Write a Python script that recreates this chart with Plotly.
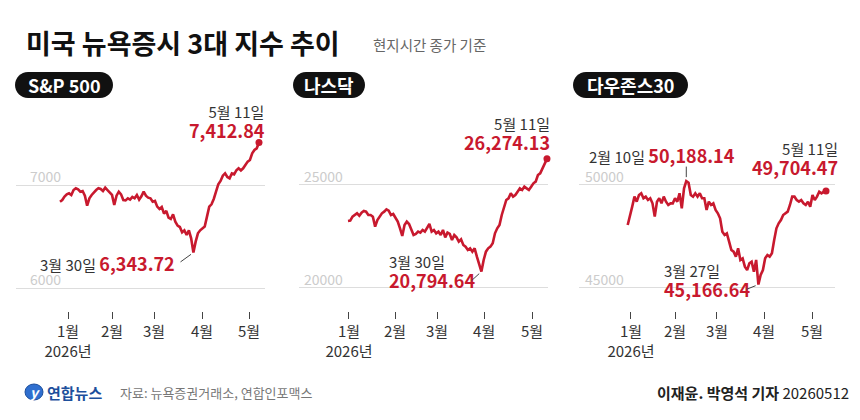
import plotly.graph_objects as go
import pandas as pd

W, H = 860, 420
FONT = "Noto Sans CJK KR"
RED = "#c8192e"
DARK = "#333333"

# ---- data -------------------------------------------------------------
dates = pd.bdate_range("2026-01-02", "2026-05-11", freq="C",
                       holidays=["2026-01-19", "2026-02-16", "2026-04-03"]
                       ).strftime("%Y-%m-%d").tolist()

sp500 = [6838, 6854, 6887, 6909, 6919, 6903, 6951, 6968, 6958, 6935,
         6942, 6896, 6799, 6871, 6903, 6929, 6951, 6968, 6961, 6942,
         6974, 6951, 6929, 6903, 6806, 6896, 6935, 6909, 6854, 6851,
         6871, 6858, 6884, 6871, 6903, 6858, 6890, 6935, 6896, 6877,
         6871, 6838, 6845, 6790, 6767, 6786, 6722, 6748, 6683, 6670,
         6715, 6644, 6605, 6592, 6540, 6560, 6515, 6560, 6482, 6343.72,
         6450, 6531, 6560, 6579, 6596, 6693, 6790, 6812, 6864, 6935,
         7006, 7039, 7091, 7113, 7078, 7065, 7113, 7104, 7142, 7162,
         7142, 7162, 7194, 7227, 7243, 7307, 7340, 7356, 7412.84]

nasdaq = [23253, 23269, 23463, 23544, 23625, 23511, 23657, 23738, 23706, 23544,
          23544, 23463, 22978, 23301, 23463, 23625, 23706, 23819, 23754, 23544,
          23592, 23382, 23220, 22897, 22524, 23058, 23220, 23107, 22816, 22573,
          22621, 22735, 22686, 22816, 22735, 22897, 23107, 22735, 22816, 22654,
          22735, 22573, 22816, 22460, 22686, 22621, 22330, 22573, 22460, 22249,
          22363, 22088, 22007, 21845, 21926, 21764, 21926, 21521, 21117, 20794.64,
          21360, 21764, 21926, 22007, 22169, 22654, 22897, 23058, 23544, 23948,
          24272, 24353, 24596, 24434, 24515, 24676, 24838, 24757, 24919, 24838,
          24757, 24919, 25081, 25162, 25485, 25566, 25809, 26052, 26274.13]

dow = [48058, 48463, 48948, 49434, 49191, 49515, 49596, 49353, 49434, 49272,
       49353, 49110, 48463, 49191, 49353, 49110, 49434, 49191, 49029, 49110,
       49110, 49353, 49191, 49596, 48867, 49838, 50188.14, 50113, 49515, 49434,
       49596, 49434, 49596, 49353, 49353, 48787, 49191, 49029, 49110, 48787,
       48625, 48382, 47735, 47573, 47654, 47249, 46845, 46764, 46521, 46926,
       46360, 46440, 46036, 45874, 46198, 46279, 45793, 46360, 45166.64, 45631,
       45874, 46440, 46602, 46521, 46683, 47330, 47897, 48139, 48301, 48544,
       48625, 48706, 49029, 49434, 49434, 49272, 49191, 49272, 49110, 49029,
       49191, 48948, 49515, 49272, 49434, 49676, 49596, 49676, 49704.47]

month_labels = ["1월<br>2026년", "2월", "3월", "4월", "5월"]
panel_names = ["S&P 500", "나스닥", "다우존스30"]
gridvals = [[6000, 7000], [20000, 25000], [45000, 50000]]
low_dates = ["3월 30일", "3월 30일", "3월 27일"]
last_date = "5월 11일"
high_date = "2월 10일"

# ---- layout helpers (pixel -> paper) ------------------------------------
def PX(x):
    return x / W

def PY(y):
    return 1 - y / H

panels = [
    dict(series=sp500, dom=(16, 265), xr=(-19.46, 90.66), lab_x=28,
         ticks=(3.54, 23.0, 41.6, 62.8, 83.6), yr=(5776.7, 7631)),
    dict(series=nasdaq, dom=(299, 548), xr=(-21.67, 88.45), lab_x=302,
         ticks=(0.44, 20.8, 39.4, 60.2, 81.4), yr=(18883, 28155)),
    dict(series=dow, dom=(579, 835), xr=(-21.61, 91.99), lab_x=583,
         ticks=(1.46, 21.0, 39.6, 60.5, 81.8), yr=(43883, 53155)),
]

fig = go.Figure()
layout = dict(
    width=W, height=H, margin=dict(l=0, r=0, t=0, b=0),
    paper_bgcolor="white", plot_bgcolor="white", showlegend=False,
    font=dict(family=FONT, color=DARK),
)

ann = []
shapes = []

for k, p in enumerate(panels):
    n = "" if k == 0 else str(k + 1)
    vals = p["series"]
    idx = list(range(len(vals)))
    fig.add_trace(go.Scatter(
        x=idx, y=vals, customdata=dates[:len(vals)], mode="lines",
        line=dict(color=RED, width=2.6), cliponaxis=False,
        hovertemplate="%{customdata}<br>%{y:,.2f}<extra></extra>",
        xaxis="x" + n, yaxis="y" + n))
    fig.add_trace(go.Scatter(
        x=[idx[-1]], y=[vals[-1]], mode="markers", cliponaxis=False,
        marker=dict(color=RED, size=7), hoverinfo="skip",
        xaxis="x" + n, yaxis="y" + n))
    layout["xaxis" + n] = dict(
        domain=[PX(p["dom"][0]), PX(p["dom"][1])], range=list(p["xr"]),
        anchor="y" + n, tickmode="array", tickvals=list(p["ticks"]),
        ticktext=month_labels, ticks="outside", ticklen=7, tickwidth=1,
        tickcolor="#444", showgrid=False, zeroline=False, showline=False,
        tickfont=dict(size=15, color=DARK, family=FONT), fixedrange=True)
    layout["yaxis" + n] = dict(
        domain=[PY(311), PY(120)], range=list(p["yr"]), anchor="x" + n,
        tickmode="array", tickvals=gridvals[k], showticklabels=False,
        showgrid=True, gridcolor="#dddddd", gridwidth=1, zeroline=False,
        showline=False, ticks="", fixedrange=True)
    # grid value labels sitting above the grid lines
    for gv in gridvals[k]:
        ann.append(dict(xref="paper", yref="y" + n, x=PX(p["lab_x"]), y=gv,
                        text=str(gv), showarrow=False, xanchor="left",
                        yanchor="middle", yshift=9,
                        font=dict(size=14, color="#cccccc", family=FONT)))

fig.update_layout(**layout)

# title / subtitle
ann.append(dict(xref="paper", yref="paper", x=PX(24), y=PY(43), xanchor="left",
                yanchor="middle", showarrow=False,
                text="<b>미국 뉴욕증시 3대 지수 추이</b>",
                font=dict(size=27, color="#111111", family=FONT)))
ann.append(dict(xref="paper", yref="paper", x=PX(371), y=PY(45), xanchor="left",
                yanchor="middle", showarrow=False, text="현지시간 종가 기준",
                font=dict(size=14.5, color="#666666", family=FONT)))

# pills
def pill_path(x0, y0, x1, y1):
    r = (y1 - y0) / 2
    c = 0.5523 * r
    pts = [("M", [(x0 + r, y0)]),
           ("L", [(x1 - r, y0)]),
           ("C", [(x1 - r + c, y0), (x1, y0 + r - c), (x1, y0 + r)]),
           ("C", [(x1, y0 + r + c), (x1 - r + c, y1), (x1 - r, y1)]),
           ("L", [(x0 + r, y1)]),
           ("C", [(x0 + r - c, y1), (x0, y0 + r + c), (x0, y0 + r)]),
           ("C", [(x0, y0 + r - c), (x0 + r - c, y0), (x0 + r, y0)])]
    s = ""
    for cmd, ps in pts:
        s += cmd + " " + " ".join(f"{PX(a):.5f},{PY(b):.5f}" for a, b in ps) + " "
    return s + "Z"

pills = [(15, 72, 113, 98), (293, 72, 365, 98), (573, 72, 688, 98)]
for (x0, y0, x1, y1), name in zip(pills, panel_names):
    shapes.append(dict(type="path", xref="paper", yref="paper",
                       path=pill_path(x0, y0, x1, y1), fillcolor="#111111",
                       line=dict(width=0)))
    ann.append(dict(xref="paper", yref="paper", x=PX((x0 + x1) / 2),
                    y=PY((y0 + y1) / 2 + 0.5), xanchor="center", yanchor="middle",
                    showarrow=False, text=f"<b>{name}</b>",
                    font=dict(size=18, color="white", family=FONT)))

# value labels
def red(v):
    return f"<b><span style='color:{RED};font-size:18px'>{v:,.2f}</span></b>"

def label(k, i, text, xanchor, align, xshift, yshift):
    n = "" if k == 0 else str(k + 1)
    v = panels[k]["series"][i]
    return dict(xref="x" + n, yref="y" + n, x=i, y=v, text=text, showarrow=False,
                xanchor=xanchor, yanchor="middle", align=align,
                xshift=xshift, yshift=yshift,
                font=dict(size=15, color=DARK, family=FONT))

def connector(k, i, ax, ay, standoff=3):
    n = "" if k == 0 else str(k + 1)
    v = panels[k]["series"][i]
    return dict(xref="x" + n, yref="y" + n, x=i, y=v, text="", showarrow=True,
                arrowhead=0, arrowwidth=1, arrowcolor="#444444",
                standoff=standoff, ax=ax, ay=ay)

last = len(sp500) - 1
end_shift = [(8, 20.5), (5, 24.8), (14, 32.1)]
for k in range(3):
    s = panels[k]["series"]
    ann.append(label(k, last, f"{last_date}<br>{red(s[last])}", "right", "right",
                     end_shift[k][0], end_shift[k][1]))

# S&P 500 low (single line)
lo = sp500.index(min(sp500))
ann.append(label(0, lo, f"{low_dates[0]} {red(sp500[lo])}", "right", "right",
                 -16.4, -10.4))
ann.append(connector(0, lo, -14.4, 10.4))

# Nasdaq low (two lines)
lo = nasdaq.index(min(nasdaq))
ann.append(label(1, lo, f"{low_dates[1]}<br>{red(nasdaq[lo])}", "left", "left",
                 -94.4, -0.4))
ann.append(connector(1, lo, -11.4, 10.4))

# Dow low (two lines)
lo = dow.index(min(dow))
ann.append(label(2, lo, f"{low_dates[2]}<br>{red(dow[lo])}", "left", "left",
                 -96.4, 3.6))
ann.append(connector(2, lo, -13.4, 5.4))

# Dow high
hi = dow.index(max(dow))
ann.append(label(2, hi, f"{high_date} {red(dow[hi])}", "left", "left", -99.3, 26.1))
ann.append(connector(2, hi, 0, -16, standoff=4))

# footer
shapes.append(dict(type="circle", xref="paper", yref="paper",
                   x0=PX(25), x1=PX(43), y0=PY(400), y1=PY(384),
                   fillcolor="#2f6fcf", line=dict(color="#1d4f9c", width=1)))
ann.append(dict(xref="paper", yref="paper", x=PX(34), y=PY(392), showarrow=False,
                text="<b><i>y</i></b>", xanchor="center", yanchor="middle",
                font=dict(size=14, color="white", family=FONT)))
ann.append(dict(xref="paper", yref="paper", x=PX(45), y=PY(392), xanchor="left",
                yanchor="middle", showarrow=False, text="<b>연합뉴스</b>",
                font=dict(size=15, color="#1d4f9c", family=FONT)))
ann.append(dict(xref="paper", yref="paper", x=PX(118), y=PY(392), xanchor="left",
                yanchor="middle", showarrow=False,
                text="자료: 뉴욕증권거래소, 연합인포맥스",
                font=dict(size=13, color="#777777", family=FONT)))
ann.append(dict(xref="paper", yref="paper", x=PX(851), y=PY(392), xanchor="right",
                yanchor="middle", showarrow=False,
                text="<b>이재윤. 박영석 기자</b> 20260512",
                font=dict(size=15, color="#222222", family=FONT)))

fig.update_layout(annotations=ann, shapes=shapes)
fig.write_html("out.html", config={"displayModeBar": False},
               post_script="document.body.style.margin='0px';")
